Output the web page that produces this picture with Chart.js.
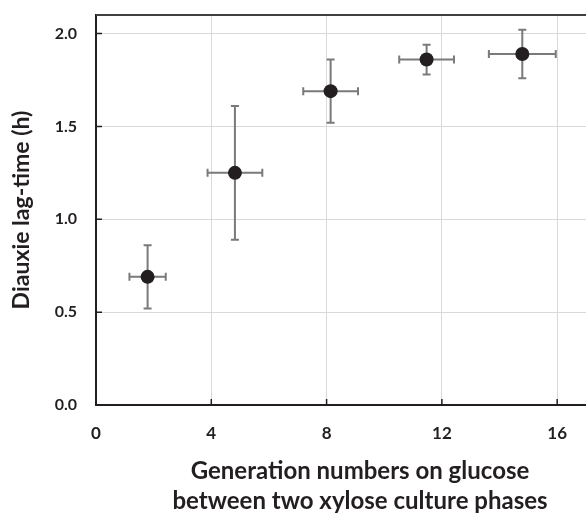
<!DOCTYPE html>
<html>
<head>
<meta charset="utf-8">
<script src="https://cdn.jsdelivr.net/npm/chart.js@4/dist/chart.umd.min.js"></script>
<style>
  html, body { margin: 0; padding: 0; background: #fff; overflow: hidden; }
  canvas { display: block; }
</style>
</head>
<body>
<canvas id="chart" width="586" height="516"></canvas>
<script>
const generations = [1.79, 4.82, 8.14, 11.47, 14.79];
const generationErr = [0.63, 0.95, 0.95, 0.95, 1.16];
const lagTime = [0.69, 1.25, 1.69, 1.86, 1.89];
const lagErr = [0.17, 0.36, 0.17, 0.08, 0.13];

const xTicks = [0, 4, 8, 12, 16];
const yTicks = [0, 0.5, 1.0, 1.5, 2.0];
const xTitle = ['Generation numbers on glucose', 'between two xylose culture phases'];
const yTitle = 'Diauxie lag-time (h)';

const FONT = 'Lato, "Open Sans", sans-serif';
const DARK = '#231f20';

// error bars behind the points, plus top frame, inside ticks and x title
const extras = {
  id: 'extras',
  beforeDatasetsDraw(chart) {
    const { ctx, scales: { x, y } } = chart;
    const cap = 4;
    ctx.save();
    ctx.strokeStyle = '#7a7a7a';
    ctx.lineWidth = 2;
    generations.forEach((g, i) => {
      const px = x.getPixelForValue(g);
      const py = y.getPixelForValue(lagTime[i]);
      const x1 = x.getPixelForValue(g - generationErr[i]);
      const x2 = x.getPixelForValue(g + generationErr[i]);
      const y1 = y.getPixelForValue(lagTime[i] + lagErr[i]);
      const y2 = y.getPixelForValue(lagTime[i] - lagErr[i]);
      ctx.beginPath();
      ctx.moveTo(x1, py); ctx.lineTo(x2, py);
      ctx.moveTo(x1, py - cap); ctx.lineTo(x1, py + cap);
      ctx.moveTo(x2, py - cap); ctx.lineTo(x2, py + cap);
      ctx.moveTo(px, y1); ctx.lineTo(px, y2);
      ctx.moveTo(px - cap, y1); ctx.lineTo(px + cap, y1);
      ctx.moveTo(px - cap, y2); ctx.lineTo(px + cap, y2);
      ctx.stroke();
    });
    ctx.restore();
  },
  afterDraw(chart) {
    const { ctx, chartArea: a, scales: { x, y } } = chart;
    ctx.save();
    ctx.strokeStyle = '#404040';
    ctx.lineWidth = 2;
    ctx.beginPath();
    ctx.moveTo(a.left, a.top); ctx.lineTo(a.right, a.top);
    ctx.stroke();
    ctx.strokeStyle = DARK;
    ctx.lineWidth = 1.5;
    ctx.beginPath();
    xTicks.forEach(v => {
      const px = x.getPixelForValue(v);
      ctx.moveTo(px, a.bottom); ctx.lineTo(px, a.bottom - 6);
    });
    yTicks.forEach(v => {
      const py = y.getPixelForValue(v);
      ctx.moveTo(a.left, py); ctx.lineTo(a.left + 6, py);
    });
    ctx.stroke();
    ctx.fillStyle = DARK;
    ctx.font = 'bold 24px ' + FONT;
    ctx.textAlign = 'center';
    ctx.textBaseline = 'alphabetic';
    ctx.fillText(xTitle[0], 360, 479);
    ctx.fillText(xTitle[1], 360, 509);
    ctx.restore();
  }
};

new Chart(document.getElementById('chart'), {
  type: 'scatter',
  data: {
    datasets: [{
      data: generations.map((g, i) => ({ x: g, y: lagTime[i] })),
      pointRadius: 7,
      pointHoverRadius: 7,
      pointBackgroundColor: DARK,
      pointBorderColor: DARK,
      pointBorderWidth: 0
    }]
  },
  options: {
    responsive: false,
    animation: false,
    layout: { autoPadding: false, padding: { top: 15, right: 0, left: 0, bottom: 0 } },
    plugins: { legend: { display: false }, tooltip: { enabled: false } },
    scales: {
      x: {
        type: 'linear',
        min: 0,
        max: 17,
        afterBuildTicks: s => { s.ticks = xTicks.map(v => ({ value: v })); },
        afterFit: s => { s.height = 111; s.paddingLeft = 0; s.paddingRight = 0; },
        grid: { color: '#d9d9d9', lineWidth: 1, drawTicks: false },
        border: { color: DARK, width: 2 },
        ticks: {
          padding: 18,
          color: DARK,
          font: { family: FONT, size: 17, weight: 'bold' },
          maxRotation: 0
        }
      },
      y: {
        min: 0,
        max: 2.1,
        afterBuildTicks: s => { s.ticks = yTicks.map(v => ({ value: v })); },
        afterFit: s => { s.width = 96; s.paddingTop = 0; s.paddingBottom = 0; },
        grid: { color: '#d9d9d9', lineWidth: 1, drawTicks: false },
        border: { color: DARK, width: 2 },
        ticks: {
          padding: 19,
          color: DARK,
          font: { family: FONT, size: 16, weight: 'bold' },
          callback: v => Number(v).toFixed(1)
        },
        title: {
          display: true,
          text: yTitle,
          color: DARK,
          font: { family: FONT, size: 23, weight: 'bold' },
          padding: { top: 8, bottom: 0 }
        }
      }
    }
  },
  plugins: [extras]
});
</script>
</body>
</html>
